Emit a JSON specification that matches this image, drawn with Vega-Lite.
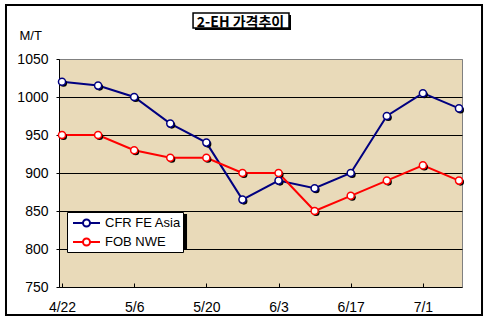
{
  "$schema": "https://vega.github.io/schema/vega-lite/v6.json",
  "autosize": {"type": "none"},
  "width": 403,
  "height": 228,
  "padding": {"left": 59, "top": 59, "right": 26, "bottom": 37},
  "background": "white",
  "title": {
    "text": "2-EH 가격추이",
    "font": "Noto Sans CJK KR",
    "fontSize": 14,
    "fontWeight": "bold",
    "color": "black",
    "frame": "group",
    "anchor": "middle",
    "baseline": "bottom",
    "dx": -20,
    "offset": -40
  },
  "config": {
    "view": {"fill": "#E9DAB9", "stroke": "#808080", "strokeWidth": 1},
    "font": "Liberation Sans"
  },
  "datasets": {
    "prices": [
      {"date": "2002-04-22", "series": "CFR FE Asia", "price": 1020},
      {"date": "2002-04-29", "series": "CFR FE Asia", "price": 1015},
      {"date": "2002-05-06", "series": "CFR FE Asia", "price": 1000},
      {"date": "2002-05-13", "series": "CFR FE Asia", "price": 965},
      {"date": "2002-05-20", "series": "CFR FE Asia", "price": 940},
      {"date": "2002-05-27", "series": "CFR FE Asia", "price": 865},
      {"date": "2002-06-03", "series": "CFR FE Asia", "price": 890},
      {"date": "2002-06-10", "series": "CFR FE Asia", "price": 880},
      {"date": "2002-06-17", "series": "CFR FE Asia", "price": 900},
      {"date": "2002-06-24", "series": "CFR FE Asia", "price": 975},
      {"date": "2002-07-01", "series": "CFR FE Asia", "price": 1005},
      {"date": "2002-07-08", "series": "CFR FE Asia", "price": 985},
      {"date": "2002-04-22", "series": "FOB NWE", "price": 950},
      {"date": "2002-04-29", "series": "FOB NWE", "price": 950},
      {"date": "2002-05-06", "series": "FOB NWE", "price": 930},
      {"date": "2002-05-13", "series": "FOB NWE", "price": 920},
      {"date": "2002-05-20", "series": "FOB NWE", "price": 920},
      {"date": "2002-05-27", "series": "FOB NWE", "price": 900},
      {"date": "2002-06-03", "series": "FOB NWE", "price": 900},
      {"date": "2002-06-10", "series": "FOB NWE", "price": 850},
      {"date": "2002-06-17", "series": "FOB NWE", "price": 870},
      {"date": "2002-06-24", "series": "FOB NWE", "price": 890},
      {"date": "2002-07-01", "series": "FOB NWE", "price": 910},
      {"date": "2002-07-08", "series": "FOB NWE", "price": 890}
    ],
    "boxes": [
      {"part": "frame", "date": "2002-04-11T03:15:00Z", "date2": "2002-07-12T11:10:00Z", "price": 713.2, "price2": 1121.0},
      {"part": "titleShadow", "date": "2002-05-17T19:00:00Z", "date2": "2002-06-05T10:00:00Z", "price": 1088.2, "price2": 1107.9},
      {"part": "titleBox", "date": "2002-05-17T10:00:00Z", "date2": "2002-06-05T00:40:00Z", "price": 1090.8, "price2": 1110.5},
      {"part": "legendShadow", "date": "2002-04-23T08:35:00Z", "date2": "2002-05-16T06:00:00Z", "price": 798.7, "price2": 846.0}
    ]
  },
  "encoding": {
    "x": {
      "field": "date", "type": "temporal",
      "scale": {"type": "utc", "domain": ["2002-04-21T10:00:00Z", "2002-07-08T14:00:00Z"]},
      "axis": {
        "title": null,
        "values": [{"year": 2002, "month": 4, "date": 22, "utc": true}, {"year": 2002, "month": 5, "date": 6, "utc": true}, {"year": 2002, "month": 5, "date": 20, "utc": true}, {"year": 2002, "month": 6, "date": 3, "utc": true}, {"year": 2002, "month": 6, "date": 17, "utc": true}, {"year": 2002, "month": 7, "date": 1, "utc": true}],
        "labelExpr": "utcFormat(datum.value, '%-m/%-d')",
        "grid": false,
        "domainColor": "black",
        "domainWidth": 1,
        "tickColor": "black",
        "tickSize": -4,
        "labelFontSize": 14,
        "labelColor": "black",
        "labelPadding": 17,
        "labelBaseline": "top"
      }
    },
    "y": {
      "field": "price", "type": "quantitative",
      "scale": {"domain": [750, 1050]},
      "axis": {
        "title": "M/T",
        "titleAngle": 0,
        "titleAlign": "left",
        "titleBaseline": "middle",
        "titleX": -40,
        "titleY": -24,
        "titleFontSize": 13,
        "titleFontWeight": "normal",
        "titleColor": "black",
        "values": [750, 800, 850, 900, 950, 1000, 1050],
        "format": "d",
        "grid": true,
        "gridColor": {"condition": {"test": "datum.value === 1050 || datum.value === 750", "value": "#808080"}, "value": "black"},
        "gridWidth": 1,
        "domainColor": "black",
        "tickColor": "black",
        "tickSize": 3,
        "labelFontSize": 14,
        "labelColor": "black",
        "labelPadding": 8
      }
    }
  },
  "layer": [
    {
      "data": {"name": "boxes"},
      "transform": [{"filter": "datum.part === 'frame'"}],
      "mark": {"type": "rect", "fill": null, "stroke": "black", "strokeWidth": 2, "clip": false},
      "encoding": {"x2": {"field": "date2"}, "y2": {"field": "price2"}}
    },
    {
      "data": {"name": "boxes"},
      "transform": [{"filter": "datum.part === 'titleShadow' || datum.part === 'legendShadow'"}],
      "mark": {"type": "rect", "fill": "black", "clip": false},
      "encoding": {"x2": {"field": "date2"}, "y2": {"field": "price2"}}
    },
    {
      "data": {"name": "boxes"},
      "transform": [{"filter": "datum.part === 'titleBox'"}],
      "mark": {"type": "rect", "fill": "white", "stroke": "black", "strokeWidth": 1.5, "clip": false},
      "encoding": {"x2": {"field": "date2"}, "y2": {"field": "price2"}}
    },
    {
      "data": {"name": "prices"},
      "mark": {"type": "line", "strokeWidth": 2},
      "encoding": {
        "color": {
          "field": "series", "type": "nominal",
          "scale": {"domain": ["CFR FE Asia", "FOB NWE"], "range": ["#000080", "#FF0000"]},
          "legend": {
            "title": null,
            "orient": "none",
            "legendX": 8,
            "legendY": 153,
            "fillColor": "white",
            "strokeColor": "black",
            "padding": 2,
            "symbolType": "M-0.625,0H0.625M1.5,0H2.75M0.625,0A0.4375,0.4375 0 1,0 1.5,0A0.4375,0.4375 0 1,0 0.625,0Z",
            "symbolSize": 256,
            "symbolStrokeWidth": 2,
            "labelFontSize": 13,
            "labelColor": "black",
            "labelOffset": 18,
            "rowPadding": 2,
            "encode": {"symbols": {"update": {"fill": {"value": "white"}}}}
          }
        }
      }
    },
    {
      "data": {"name": "prices"},
      "mark": {"type": "point", "filled": true, "color": "black", "size": 50, "xOffset": 1.5, "yOffset": 1.5, "opacity": 1}
    },
    {
      "data": {"name": "prices"},
      "mark": {"type": "point", "filled": false, "fill": "white", "size": 50, "strokeWidth": 1.5, "opacity": 1},
      "encoding": {
        "color": {"field": "series", "type": "nominal", "legend": null}
      }
    }
  ]
}
